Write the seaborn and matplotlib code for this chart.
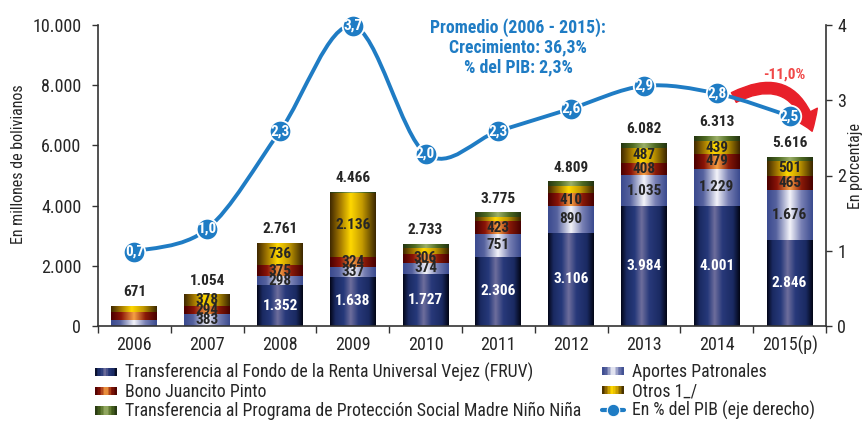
import numpy as np
import matplotlib
matplotlib.use("Agg")
import matplotlib.pyplot as plt
import seaborn as sns
from matplotlib.colors import LinearSegmentedColormap
from matplotlib.patches import Rectangle, PathPatch, FancyArrowPatch
from matplotlib.path import Path
from matplotlib.lines import Line2D
from matplotlib.legend_handler import HandlerBase
from matplotlib import font_manager

# ---------------- data ----------------
years = ["2006", "2007", "2008", "2009", "2010", "2011", "2012", "2013", "2014", "2015(p)"]
fruv = [0, 0, 1352, 1638, 1727, 2306, 3106, 3984, 4001, 2846]
aportes = [190, 383, 298, 337, 374, 751, 890, 1035, 1229, 1676]
bono_jp = [275, 294, 375, 324, 306, 423, 410, 408, 479, 465]
otros = [206, 378, 736, 2136, 170, 140, 258, 487, 439, 501]
madre_nino = [0, 0, 0, 31, 156, 155, 145, 168, 165, 128]
totals = [671, 1054, 2761, 4466, 2733, 3775, 4809, 6082, 6313, 5616]
pib_pct = [0.7, 1.0, 2.3, 3.7, 2.0, 2.3, 2.6, 2.9, 2.8, 2.5]
pib_labels = ["0,7", "1,0", "2,3", "3,7", "2,0", "2,3", "2,6", "2,9", "2,8", "2,5"]
series_names = [
    "Transferencia al Fondo de la Renta Universal Vejez (FRUV)",
    "Aportes Patronales",
    "Bono Juancito Pinto",
    "Otros 1_/",
    "Transferencia al Programa de Protección Social Madre Niño Niña",
]
line_name = "En % del PIB (eje derecho)"
left_ticks = [0, 2000, 4000, 6000, 8000, 10000]
right_ticks = [0, 1, 2, 3, 4]
note_lines = ["Promedio (2006 - 2015):", "Crecimiento: 36,3%", "% del PIB: 2,3%"]
change_label = "-11,0%"

# ---------------- style ----------------
sns.set_theme(style="white")
available = {f.name for f in font_manager.fontManager.ttflist}
narrow = None
for cand in ["Liberation Sans Narrow", "Roboto Condensed", "Open Sans Condensed", "Noto Sans Condensed",
             "DejaVu Sans Condensed"]:
    if cand in available:
        narrow = cand
        break
if narrow is not None:
    plt.rcParams["font.family"] = [narrow, "Liberation Sans", "DejaVu Sans"]
    S = 1.0
else:
    plt.rcParams["font.family"] = ["Liberation Sans", "DejaVu Sans"]
    S = 0.86

BLUE = "#1f7cc4"
TXT = "#262626"
cmaps = [
    LinearSegmentedColormap.from_list("fruv", [(0, "#030618"), (0.12, "#1a2a62"), (0.3, "#26397a"),
                                                (0.45, "#6e6e9c"), (0.62, "#28397a"), (0.85, "#1a2a62"), (1, "#020514")]),
    LinearSegmentedColormap.from_list("apo", [(0, "#3a4a8e"), (0.2, "#56629f"), (0.5, "#f4f4fa"),
                                               (0.75, "#7880b4"), (1, "#3a4a8e")]),
    LinearSegmentedColormap.from_list("bjp", [(0, "#4a0000"), (0.22, "#8a1408"), (0.5, "#f7a044"),
                                               (0.75, "#8a1a08"), (1, "#460000")]),
    LinearSegmentedColormap.from_list("otr", [(0, "#3e2800"), (0.2, "#9a7000"), (0.45, "#ffd800"),
                                               (0.7, "#c49a00"), (1, "#3a2600")]),
    LinearSegmentedColormap.from_list("mnn", [(0, "#243410"), (0.25, "#4e6a22"), (0.5, "#9cb068"),
                                               (0.75, "#4e6a22"), (1, "#223210")]),
]
mid_colors = ["#26397a", "#7880b4", "#c0501c", "#e0b000", "#5a7a28"]

fig = plt.figure(figsize=(8.68, 4.21), dpi=100)
ax = fig.add_axes([98 / 868, 95 / 421, 728 / 868, 301 / 421])

x = np.arange(len(years))
width = 0.63
stack = [fruv, aportes, bono_jp, otros, madre_nino]
bottom = np.zeros(len(years))
grad = np.linspace(0, 1, 256)[None, :]
for k, vals in enumerate(stack):
    vals = np.array(vals, dtype=float)
    bars = ax.bar(x, vals, width, bottom=bottom, color=mid_colors[k], linewidth=0, zorder=2)
    for rect, v in zip(bars.patches, vals):
        if v <= 0:
            continue
        x0, y0 = rect.get_x(), rect.get_y()
        w, h = rect.get_width(), rect.get_height()
        im = ax.imshow(grad, cmap=cmaps[k], extent=[x0, x0 + w, y0, y0 + h], aspect="auto",
                       interpolation="bilinear", zorder=2.5)
        im.set_clip_path(rect)
    for xi, b, v in zip(x, bottom, vals):
        if v >= 280 and k < 4:
            ax.text(xi, b + v / 2, f"{int(v):,}".replace(",", "."), ha="center", va="center",
                    fontsize=11 * S, fontweight="bold", color="white" if k == 0 else TXT, zorder=4)
    bottom = bottom + vals

for xi, t in zip(x, totals):
    ax.text(xi, t + 450, f"{t:,}".replace(",", "."), ha="center", va="center",
            fontsize=11 * S, fontweight="bold", color=TXT, zorder=4)

ax.set_xlim(-0.5, 9.5)
ax.set_ylim(0, 10000)
ax.set_yticks(left_ticks)
ax.set_yticklabels([f"{t:,}".replace(",", ".") for t in left_ticks], fontsize=13 * S, color=TXT)
ax.set_xticks(x)
ax.set_xticklabels(years, fontsize=13 * S, color=TXT)
ax.set_xticks(np.arange(-0.5, 9.6, 1), minor=True)
ax.tick_params(axis="x", which="major", length=0, pad=7)
ax.tick_params(axis="x", which="minor", length=5, width=1, color="#333333", direction="out", bottom=True)
ax.tick_params(axis="y", length=4, width=1, color="#333333", direction="out", left=True, pad=8)
ax.set_ylabel("En millones de bolivianos", fontsize=11.5 * S, color=TXT)
ax.yaxis.set_label_coords(-0.099, 0.538)
for s in ["top", "right"]:
    ax.spines[s].set_visible(False)
for s in ["left", "bottom"]:
    ax.spines[s].set_color("#333333")
    ax.spines[s].set_linewidth(1.2)

ax2 = ax.twinx()
ax2.set_ylim(0, 4)
ax2.set_yticks(right_ticks)
ax2.set_yticklabels([str(t) for t in right_ticks], fontsize=13 * S, color=TXT)
ax2.tick_params(axis="y", length=4, width=1, color="#333333", direction="out", right=True, pad=4)
ax2.set_ylabel("En porcentaje", fontsize=11.5 * S, color=TXT)
ax2.yaxis.set_label_coords(1.0305, 0.53)
for s in ["top", "left", "bottom"]:
    ax2.spines[s].set_visible(False)
ax2.spines["right"].set_color("#333333")
ax2.spines["right"].set_linewidth(1.2)
ax2.grid(False)

ax3 = ax.twinx()
ax3.set_ylim(-0.29, 3.71)
ax3.axis("off")
P = np.column_stack([x, pib_pct]).astype(float)
verts = [P[0]]
codes = [Path.MOVETO]
n = len(P)
for i in range(n - 1):
    p0 = P[i - 1] if i > 0 else P[i]
    p3 = P[i + 2] if i + 2 < n else P[i + 1]
    c1 = P[i] + (P[i + 1] - p0) / 6.0
    c2 = P[i + 1] - (p3 - P[i]) / 6.0
    verts += [c1, c2, P[i + 1]]
    codes += [Path.CURVE4] * 3
ax3.add_patch(PathPatch(Path(verts, codes), fill=False, edgecolor=BLUE, lw=2.8, zorder=5, clip_on=False))
sns.scatterplot(x=x, y=pib_pct, ax=ax3, s=240, color=BLUE, edgecolor="white", linewidth=1.3,
                zorder=6, clip_on=False, legend=False)
for xi, yv, lab in zip(x, pib_pct, pib_labels):
    ax3.text(xi, yv, lab, ha="center", va="center", fontsize=11 * S, fontweight="bold",
             color="white", zorder=7, clip_on=False)
ax3.set_xlim(-0.5, 9.5)

ax.text(5.27, 9260, "\n".join(note_lines), ha="center", va="center", fontsize=12.8 * S,
        fontweight="bold", color=BLUE, linespacing=1.1, zorder=6)

arrow = FancyArrowPatch((8.2, 7550), (9.32, 6380), connectionstyle="arc3,rad=-0.62",
                        arrowstyle="simple,head_width=1.6,head_length=1.1,tail_width=0.65",
                        mutation_scale=12, color="#e8202a", zorder=8, clip_on=False)
ax.add_patch(arrow)
ax.text(8.93, 8360, change_label, ha="center", va="center", fontsize=11 * S, fontweight="bold",
        color="#f04848", zorder=8)


class GradHandler(HandlerBase):
    def __init__(self, cmap):
        super().__init__()
        self.cmap = cmap

    def create_artists(self, legend, orig_handle, xdescent, ydescent, width, height, fontsize, trans):
        arts = []
        m = 14
        for j in range(m):
            r = Rectangle((-xdescent + width * j / m, -ydescent + height * 0.1), width / m + 0.3,
                          height * 0.75, facecolor=self.cmap((j + 0.5) / m), edgecolor="none",
                          transform=trans)
            arts.append(r)
        return arts


handles = [Rectangle((0, 0), 1, 1, label=nm) for nm in series_names]
hmap = {h: GradHandler(c) for h, c in zip(handles, cmaps)}
line_handle = Line2D([], [], color=BLUE, lw=3, marker="o", markersize=9, markeredgecolor="white",
                     markeredgewidth=0.8)
fs_leg = 12.8 * S
common = dict(frameon=False, fontsize=fs_leg, handlelength=22 / (fs_leg * 1.389), handleheight=0.6,
              handletextpad=8 / (fs_leg * 1.389), labelspacing=0.06, borderpad=0, borderaxespad=0,
              loc="upper left")
leg1 = fig.legend([handles[0], handles[2], handles[4]], [series_names[0], series_names[2], series_names[4]],
                  handler_map=hmap, bbox_to_anchor=(95 / 868, 1 - 363 / 421), **common)
for t in leg1.get_texts():
    t.set_color(TXT)
leg2 = fig.legend([handles[1], handles[3], line_handle], [series_names[1], series_names[3], line_name],
                  handler_map=hmap, bbox_to_anchor=(602 / 868, 1 - 363 / 421), **common)
for t in leg2.get_texts():
    t.set_color(TXT)

fig.savefig("out.png", dpi=100)
